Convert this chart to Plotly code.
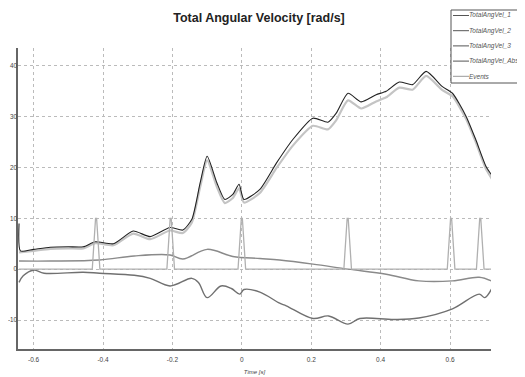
import plotly.graph_objects as go

# ---- data ----
abs_x = [-0.642, -0.638, -0.60, -0.552, -0.50, -0.457, -0.422, -0.37, -0.313, -0.264, -0.207, -0.17, -0.144,
         -0.12, -0.10, -0.072, -0.049, -0.026, -0.008, 0.006, 0.052, 0.10, 0.147, 0.205, 0.248, 0.272,
         0.306, 0.344, 0.387, 0.416, 0.454, 0.492, 0.531, 0.578, 0.607, 0.646, 0.674, 0.703, 0.722]
abs_y = [9.0, 3.6, 3.9, 4.3, 4.4, 4.4, 5.4, 5.0, 7.5, 6.4, 8.2, 7.7, 9.8,
         17.0, 22.2, 17.0, 13.7, 14.7, 16.7, 13.7, 15.7, 20.9, 25.5, 29.7, 28.9, 30.7,
         34.6, 32.9, 34.3, 35.0, 36.8, 36.3, 38.9, 35.9, 34.6, 30.1, 25.5, 20.3, 18.3]

v1_x = [-0.642, -0.60, -0.552, -0.50, -0.457, -0.422, -0.37, -0.313, -0.264, -0.207, -0.17, -0.144,
        -0.12, -0.10, -0.072, -0.049, -0.026, -0.008, 0.006, 0.052, 0.10, 0.147, 0.205, 0.248, 0.272,
        0.306, 0.344, 0.387, 0.416, 0.454, 0.492, 0.531, 0.578, 0.607, 0.646, 0.674, 0.703, 0.722]
v1_y = [3.3, 3.6, 4.0, 4.1, 4.1, 5.1, 4.7, 7.0, 5.9, 7.6, 7.1, 9.2,
        16.2, 21.4, 16.2, 13.0, 14.0, 15.9, 13.1, 15.0, 19.9, 24.3, 28.2, 27.5, 29.3,
        33.2, 31.6, 33.0, 33.8, 35.7, 35.3, 38.0, 35.2, 34.0, 29.6, 25.0, 19.8, 17.6]

v2_x = [-0.642, -0.55, -0.41, -0.31, -0.207, -0.17, -0.10, -0.026, 0.052, 0.109, 0.205, 0.306, 0.416,
        0.51, 0.607, 0.684, 0.722]
v2_y = [1.6, 1.6, 1.8, 2.6, 2.8, 2.0, 3.9, 2.5, 2.1, 1.8, 1.0, 0.0, -1.0,
        -2.3, -2.3, -1.6, -2.4]

v3_x = [-0.642, -0.63, -0.60, -0.57, -0.457, -0.41, -0.31, -0.264, -0.207, -0.144, -0.125, -0.10,
        -0.06, -0.03, -0.006, 0.006, 0.052, 0.109, 0.128, 0.205, 0.25, 0.306, 0.34, 0.44, 0.51, 0.607,
        0.684, 0.70, 0.722]
v3_y = [-2.6, -1.3, -0.2, -0.8, -0.6, -0.8, -1.2, -1.8, -3.3, -1.8, -2.6, -5.6,
        -3.3, -3.8, -4.9, -4.0, -4.5, -6.7, -7.2, -9.7, -9.2, -10.8, -9.7, -9.9, -9.6, -7.8,
        -4.9, -5.6, -3.6]

event_times = [-0.42, -0.205, 0.0, 0.305, 0.603, 0.687]
event_height = 10

x_ticks = [-0.6, -0.4, -0.2, 0, 0.2, 0.4, 0.6]
x_tick_labels = ["-0.6", "-0.4", "-0.2", "0", "0.2", "0.4", "0.6"]
y_ticks = [-10, 0, 10, 20, 30, 40]
y_tick_labels = ["-10", "0", "10", "20", "30", "40"]

series_names = ["TotalAngVel_1", "TotalAngVel_2", "TotalAngVel_3", "TotalAngVel_Abs", "Events"]
series_colors = ["#c4c4c4", "#8a8a8a", "#707070", "#222222", "#b0b0b0"]

# events trace built as narrow triangles
ev_x, ev_y = [-0.642], [0]
for t in event_times:
    ev_x += [t - 0.011, t - 0.0015, t + 0.0015, t + 0.011]
    ev_y += [0, event_height, event_height, 0]
ev_x.append(0.722)
ev_y.append(0)

fig = go.Figure()
fig.add_trace(go.Scatter(x=v1_x, y=v1_y, mode="lines", name=series_names[0],
                         line=dict(color=series_colors[0], width=2.2, shape="spline", smoothing=0.6)))
fig.add_trace(go.Scatter(x=v2_x, y=v2_y, mode="lines", name=series_names[1],
                         line=dict(color=series_colors[1], width=1.4, shape="spline")))
fig.add_trace(go.Scatter(x=v3_x, y=v3_y, mode="lines", name=series_names[2],
                         line=dict(color=series_colors[2], width=1.4, shape="spline")))
fig.add_trace(go.Scatter(x=abs_x, y=abs_y, mode="lines", name=series_names[3],
                         line=dict(color=series_colors[3], width=1.1, shape="spline", smoothing=0.6)))
fig.add_trace(go.Scatter(x=ev_x, y=ev_y, mode="lines", name=series_names[4],
                         line=dict(color=series_colors[4], width=1.3)))

# The page body has an 8px margin, so the figure is laid out 8px smaller and offset.
OFF = 8
W, H = 525 - OFF, 377 - OFF
# plot area in screen pixels: x 18..491, y 48..349
L, R, T, B = 18 - OFF, 491 - OFF, 48 - OFF, 349 - OFF
def px(sx):
    return (sx - OFF - L) / (R - L)
def py(sy):
    return (B - (sy - OFF)) / (B - T)

# compact legend box (runs off the right edge, as in the reference)
shapes = [dict(type="rect", xref="paper", yref="paper", x0=px(451), x1=px(540), y0=py(83), y1=py(10),
               line=dict(color="#555", width=1), fillcolor="white", layer="above")]
annotations = []
for i, (nm, col) in enumerate(zip(series_names, series_colors)):
    yy = 15.5 + i * 15.2
    shapes.append(dict(type="line", xref="paper", yref="paper", x0=px(453), x1=px(469),
                       y0=py(yy), y1=py(yy), line=dict(color="#555" if i < 4 else "#999", width=1),
                       layer="above"))
    annotations.append(dict(text="<i>" + nm + "</i>", xref="paper", yref="paper", x=px(468), y=py(yy),
                            xanchor="left", yanchor="middle", showarrow=False, borderpad=0,
                            font=dict(size=6.5, color="#555", family="Liberation Sans, Arial, sans-serif")))

fig.update_layout(
    width=W, height=H,
    margin=dict(l=L, r=W - R, t=T, b=H - B, autoexpand=False),
    paper_bgcolor="white", plot_bgcolor="white",
    font=dict(family="Liberation Sans, Arial, sans-serif", size=6.5, color="#444"),
    title=dict(text="<b>Total Angular Velocity [rad/s]</b>", x=(259 - OFF) / W, xanchor="center",
               y=1 - (18 - OFF) / H, yanchor="middle",
               font=dict(family="Liberation Sans, Arial, sans-serif", size=12.5, color="#222")),
    showlegend=False,
    shapes=shapes,
    annotations=annotations,
)
fig.update_xaxes(range=[-0.645, 0.718], tickvals=x_ticks, ticktext=x_tick_labels,
                 showgrid=True, gridcolor="#bbbbbb", griddash="dot", gridwidth=1,
                 showline=True, linecolor="#666", linewidth=1.5, zeroline=False, ticks="",
                 tickfont=dict(size=6.5), ticklabelstandoff=3,
                 title=dict(text="<i>Time [s]</i>", font=dict(size=6), standoff=8))
fig.update_yaxes(range=[-15.7, 43.5], tickvals=y_ticks, ticktext=y_tick_labels,
                 showgrid=True, gridcolor="#bbbbbb", griddash="dot", gridwidth=1,
                 showline=True, linecolor="#666", linewidth=1.5, zeroline=False, ticks="",
                 tickfont=dict(size=6.3), ticklabelstandoff=-2)

fig.write_html("out.html")
